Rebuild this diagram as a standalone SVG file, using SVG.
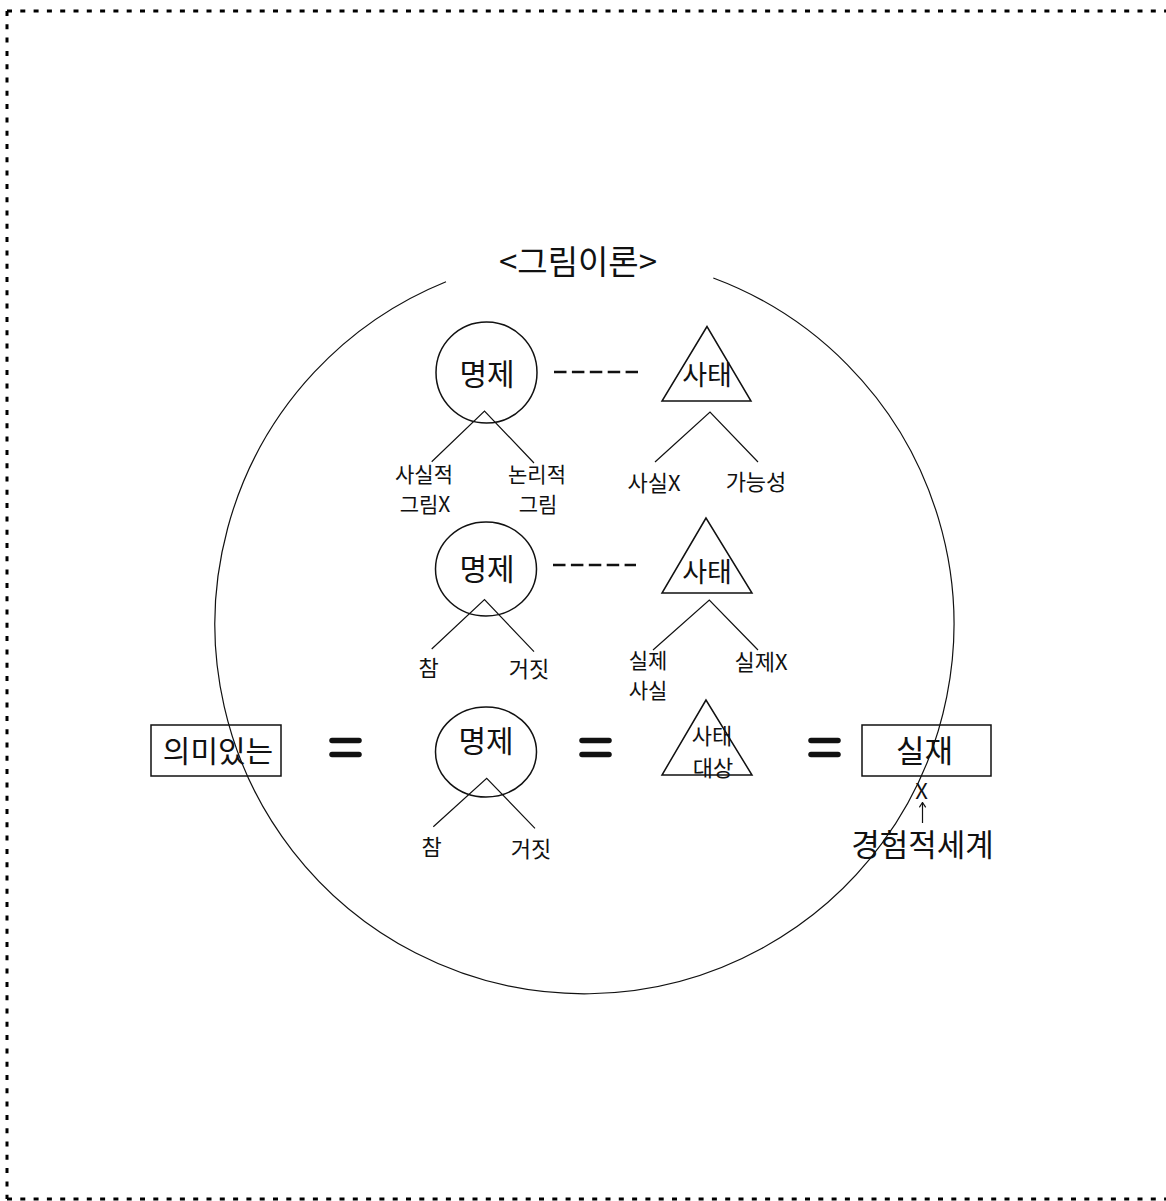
<svg xmlns="http://www.w3.org/2000/svg" width="1166" height="1201" viewBox="0 0 1166 1201">
<style>
text{font-family:"Noto Sans CJK KR","Noto Sans",sans-serif;fill:#111;text-anchor:middle;dominant-baseline:central}
.shape{fill:none;stroke:#111;stroke-width:1.5}
.ln{fill:none;stroke:#111;stroke-width:1.2}
.dash{stroke:#111;stroke-width:2.6;stroke-dasharray:12.5 5.4}
.eq{stroke:#111;stroke-width:5.5;stroke-linecap:round}
.border{stroke:#000;stroke-width:3;stroke-dasharray:5 8.3}
.s20{font-size:22px}.s21{font-size:21px}.s24{font-size:22px}.s26{font-size:27px}.s28{font-size:30px}.s31{font-size:31px}
</style>
<defs>
<marker id="ah" viewBox="0 0 10 10" refX="9" refY="5" markerWidth="8" markerHeight="8" orient="auto" markerUnits="userSpaceOnUse">
<path d="M3 1 L9 5 L3 9" fill="none" stroke="#111" stroke-width="1.5"/>
</marker>
</defs>
<rect width="1166" height="1201" fill="#fff"/>
<g id="frame">
<line class="border" x1="7" y1="11" x2="1166" y2="11"/>
<line class="border" x1="7" y1="11" x2="7" y2="1199"/>
<line class="border" x1="7" y1="1199" x2="1166" y2="1199"/>
</g>
<g id="world">
<path class="ln" d="M713.3 278 A369.5 369.5 0 1 1 446 281.7" stroke-width="1.4"/>
<text id="title" x="578" y="260" style="font-size:33px">&lt;그림이론&gt;</text>
</g>
<g id="prop1"><circle class="shape" cx="486.5" cy="372.5" r="50.5"/><text class="s28" x="487" y="372">명제</text></g>
<g id="state1"><polygon class="shape" points="707,326.5 662,401 751,401"/><text class="s26" x="707" y="373">사태</text></g>
<g id="prop2"><ellipse class="shape" cx="486" cy="569" rx="50.5" ry="47"/><text class="s28" x="487" y="567">명제</text></g>
<g id="state2"><polygon class="shape" points="706,518 662,593 752,593"/><text class="s26" x="707" y="570">사태</text></g>
<g id="prop3"><ellipse class="shape" cx="486" cy="752" rx="50.5" ry="45"/><text class="s28" x="486" y="739">명제</text></g>
<g id="state3"><polygon class="shape" points="706,700 662,775 752,775"/><text class="s24"><tspan x="712" y="734">사태</tspan><tspan x="713" y="766">대상</tspan></text></g>
<g id="meaningful"><rect class="shape" x="151" y="725" width="130" height="51"/><text class="s28" x="218" y="749">의미있는</text></g>
<g id="reality"><rect class="shape" x="862" y="725" width="129" height="51"/><text class="s31" x="924.5" y="748">실재</text></g>
<g id="labels">
<text class="s21"><tspan x="424" y="473">사실적</tspan><tspan x="425" y="503">그림X</tspan></text>
<text class="s21"><tspan x="537" y="473">논리적</tspan><tspan x="538" y="503">그림</tspan></text>
<text class="s20" x="654" y="481">사실X</text>
<text class="s20" x="756" y="480">가능성</text>
<text class="s20" x="428.5" y="666">참</text>
<text class="s20" x="529" y="667">거짓</text>
<text class="s21"><tspan x="648" y="659">실제</tspan><tspan x="648" y="689">사실</tspan></text>
<text class="s20" x="761" y="660">실제X</text>
<text class="s20" x="431.5" y="845">참</text>
<text class="s20" x="531" y="847">거짓</text>
<text class="s20" x="921.5" y="789">X</text>
<text class="s31" x="922.5" y="842">경험적세계</text>
</g>
<g id="connectors">
<line class="dash" x1="554" y1="372" x2="638" y2="372"/>
<line class="dash" x1="553" y1="565" x2="636" y2="565"/>
<polyline class="ln" points="431.7,461.7 484.5,411 534,463"/>
<polyline class="ln" points="655,462 710,412 758,462"/>
<polyline class="ln" points="431.7,649 484.5,599.5 534,651.7"/>
<polyline class="ln" points="653,650 709.3,600 758,650"/>
<polyline class="ln" points="433.3,826.7 486.7,778.3 535,828.3"/>
<line class="eq" x1="332" y1="740.5" x2="359" y2="740.5"/>
<line class="eq" x1="332" y1="754.5" x2="359" y2="754.5"/>
<line class="eq" x1="582" y1="740.5" x2="609" y2="740.5"/>
<line class="eq" x1="582" y1="754.5" x2="609" y2="754.5"/>
<line class="eq" x1="811" y1="740.5" x2="838" y2="740.5"/>
<line class="eq" x1="811" y1="754.5" x2="838" y2="754.5"/>
<line class="ln" x1="922.5" y1="823" x2="922.5" y2="802.5" stroke-width="1.5" marker-end="url(#ah)"/>
</g>
</svg>
